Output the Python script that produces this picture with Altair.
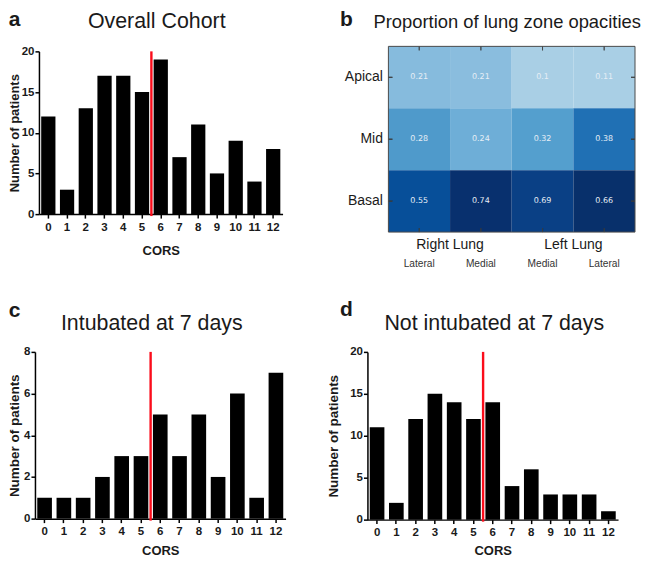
import altair as alt
import pandas as pd

CORS = list(range(13))
overall = [12, 3, 13, 17, 17, 15, 19, 7, 11, 5, 9, 4, 8]
intubated = [1, 1, 1, 2, 3, 3, 5, 3, 5, 2, 6, 1, 7]
not_intubated = [11, 2, 12, 15, 14, 12, 14, 4, 6, 3, 3, 3, 1]
cutoff = 5.5

zones = ["Apical", "Mid", "Basal"]
# trailing space keeps the two Lateral / Medial columns distinct categories
columns = ["Lateral", "Medial", "Medial ", "Lateral "]
opacity = [
    [0.21, 0.21, 0.1, 0.11],
    [0.28, 0.24, 0.32, 0.38],
    [0.55, 0.74, 0.69, 0.66],
]
cell_colors = [
    ["#86bbdd", "#8abdde", "#a9cfe5", "#a9cfe5"],
    ["#4f9acb", "#6eaed7", "#549fce", "#2070b4"],
    ["#074f99", "#08306e", "#0a4085", "#08306b"],
]
groups = ["Right Lung", "Left Lung"]
group_pos = [1, 3]

FONT = "Liberation Sans"
TICK_C = "#1a1a1a"


def annotation(text, x, y, size, weight="normal"):
    return alt.Chart(pd.DataFrame({"t": [text]})).mark_text(
        font=FONT, fontSize=size, fontWeight=weight, color="#1a1a1a",
        align="center", baseline="middle",
    ).encode(x=alt.value(x), y=alt.value(y), text="t:N")


def bars(values, ymax, ystep, w, h, xr, yr, title, tx, ty, letter, lx, ly,
         title_x, yt_size, xoff=0, yoff=0, cors_pad=12):
    df = pd.DataFrame({"c": CORS, "n": values})
    yscale = alt.Scale(domain=[0, ymax], range=yr, nice=False)
    b = alt.Chart(df).mark_bar(color="black").encode(
        x=alt.X("c:O", scale=alt.Scale(range=xr, paddingInner=0.24, paddingOuter=0.12),
                axis=alt.Axis(title="CORS", labelAngle=0, labelFont=FONT, labelFontSize=11.5,
                              labelFontWeight="bold", labelColor=TICK_C, titleFont=FONT,
                              titleFontSize=13, titleFontWeight="bold", titleColor=TICK_C,
                              domainColor="black", domainWidth=1.5, tickColor="black",
                              tickWidth=1.5, tickSize=4, labelPadding=3, titlePadding=cors_pad,
                              offset=yoff, grid=False)),
        y=alt.Y("n:Q", scale=yscale,
                axis=alt.Axis(title="Number of patients", values=list(range(0, ymax + 1, ystep)),
                              labelFont=FONT, labelFontSize=11.5, labelFontWeight="bold",
                              labelColor=TICK_C, titleFont=FONT, titleFontSize=yt_size,
                              titleFontWeight="bold", titleColor=TICK_C, domainColor="black",
                              domainWidth=1.5, tickColor="black", tickWidth=1.5, tickSize=4,
                              labelPadding=1, titleX=title_x, offset=xoff, grid=False)),
    )
    rule_df = pd.DataFrame({"x": [cutoff], "y0": [-0.012 * ymax], "y1": [ymax]})
    rule = alt.Chart(rule_df).mark_rule(color="#fb0d1b", strokeWidth=2.4).encode(
        x=alt.X("x:Q", scale=alt.Scale(domain=[-0.5, 12.5], range=xr), axis=None),
        y=alt.Y("y0:Q", scale=yscale, title="Number of patients"),
        y2="y1:Q",
    )
    return alt.layer(
        b, rule,
        annotation(title, tx, ty, 21.4),
        annotation(letter, lx, ly, 21, "bold"),
    ).resolve_scale(x="independent").properties(width=w, height=h)


a = bars(overall, 20, 5, 251, 186, [4, 248], [168, 5], "Overall Cohort", 122, -24, "a", -20.5, -26.5, -17, 13, xoff=-4, yoff=-18)
c = bars(intubated, 8, 2, 251, 167, [0, 251], [167, 0], "Intubated at 7 days", 117, -28, "c", -20.5, -41, -13, 13.5, cors_pad=7)
d = bars(not_intubated, 20, 5, 251, 168, [0, 251], [168, 0], "Not intubated at 7 days", 127, -28, "d", -21, -42, -27, 13.5, cors_pad=6)

rows = []
for i, z in enumerate(zones):
    for j, col in enumerate(columns):
        rows.append({"zone": z, "col": col, "v": opacity[i][j], "fill": cell_colors[i][j]})
hm = pd.DataFrame(rows)

HX0, HX1, HH = 21, 268, 186
hscale = alt.Scale(range=[HX0, HX1], paddingInner=0, paddingOuter=0)
hx = alt.X("col:N", sort=columns, scale=hscale,
           axis=alt.Axis(title=None, labelAngle=0, labelFont=FONT, labelFontSize=10.2,
                         labelColor="#333333", labelPadding=31, labelBaseline="middle",
                         tickSize=0, domain=False, grid=False))
hx_plain = alt.X("col:N", sort=columns, scale=hscale, axis=None)
hy = alt.Y("zone:N", sort=zones, scale=alt.Scale(paddingInner=0, paddingOuter=0),
           axis=alt.Axis(title=None, labelFont=FONT, labelFontSize=14, labelColor="#1a1a1a",
                         labelPadding=6, tickSize=0, domain=False, offset=-HX0, grid=False))
cells = alt.Chart(hm).mark_rect().encode(x=hx, y=hy, fill=alt.Fill("fill:N", scale=None))
vals = alt.Chart(hm).mark_text(font="DejaVu Sans", fontSize=8, color="#e6eef6").encode(
    x=hx_plain, y=hy, text=alt.Text("v:Q"))
frame = alt.Chart(pd.DataFrame({"k": [0]})).mark_rect(
    filled=False, stroke="#4a4a4a", strokeWidth=1
).encode(x=alt.value(HX0), x2=alt.value(HX1), y=alt.value(0), y2=alt.value(HH))
tick_style = dict(color="#3c3c3c", strokeWidth=0.8, opacity=0.7)
tick_left = alt.Chart(hm).mark_rule(**tick_style).encode(y=hy, x=alt.value(HX0), x2=alt.value(HX0 + 4))
tick_right = alt.Chart(hm).mark_rule(**tick_style).encode(y=hy, x=alt.value(HX1 - 4), x2=alt.value(HX1))
tick_bottom = alt.Chart(hm).mark_rule(**tick_style).encode(x=hx_plain, y=alt.value(HH - 4), y2=alt.value(HH))
tick_top = alt.Chart(hm).mark_rule(**tick_style).encode(x=hx_plain, y=alt.value(0), y2=alt.value(4))
grp = alt.Chart(pd.DataFrame({"g": groups, "p": group_pos})).mark_text(
    font=FONT, fontSize=14, color="#1a1a1a", baseline="middle"
).encode(
    x=alt.X("p:Q", scale=alt.Scale(domain=[0, 4], range=[HX0, HX1]), axis=None),
    y=alt.value(HH + 13), text="g:N",
)
b_panel = alt.layer(
    cells, vals, tick_left, tick_right, tick_bottom, tick_top, frame, grp,
    annotation("Proportion of lung zone opacities", 140, -24, 18.4),
    annotation("b", -21, -26.5, 21, "bold"),
).resolve_scale(x="independent").properties(width=HX1, height=HH)

chart = alt.concat(a, b_panel, c, d, columns=2, spacing={"column": 82, "row": 120},
                   bounds="flush").properties(padding=0).configure_view(stroke=None)

chart.save("out.html", embed_options={"renderer": "svg", "actions": False})
